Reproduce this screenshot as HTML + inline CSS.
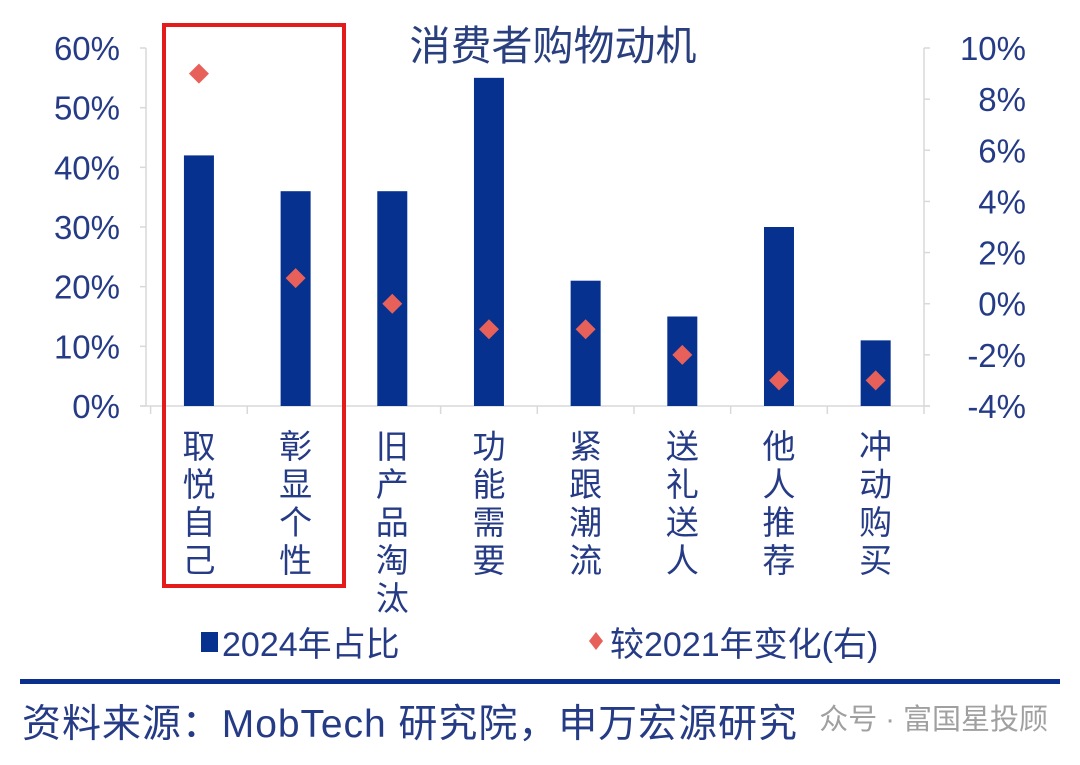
<!DOCTYPE html>
<html><head><meta charset="utf-8"><style>
body{margin:0;background:#fff;}
svg text{font-family:"Liberation Sans","Noto Sans CJK SC",sans-serif;}
</style></head><body>
<svg width="1080" height="760" viewBox="0 0 1080 760">
<g id="g"></g>
</svg>
<script>
const categories=["取悦自己","彰显个性","旧产品淘汰","功能需要","紧跟潮流","送礼送人","他人推荐","冲动购买"];
const share2024=[42,36,36,55,21,15,30,11];
const change2021=[9,1,0,-1,-1,-2,-3,-3];
const leftTicks=[0,10,20,30,40,50,60];
const rightTicks=[-4,-2,0,2,4,6,8,10];
const NS="http://www.w3.org/2000/svg";
const g=document.getElementById('g');
const x0=150.6,x1=924,yTop=48,yBot=406;
const band=(x1-x0)/categories.length;
const xc=i=>x0+band*(i+0.5);
const yL=v=>yBot-(v-0)/(60-0)*(yBot-yTop);
const yR=v=>yBot-(v+4)/(10+4)*(yBot-yTop);
function el(t,a,txt){const e=document.createElementNS(NS,t);for(const k in a)e.setAttribute(k,a[k]);if(txt!==undefined)e.textContent=txt;g.appendChild(e);return e;}
let e;
e=el('text',{x:553,y:60,'font-size':41,fill:'#2a3f7e','text-anchor':'middle'},'消费者购物动机');


e=el('line',{x1:146,x2:146,y1:yTop,y2:yBot,stroke:'#d9d9d9','stroke-width':1.5});


e=el('line',{x1:924,x2:924,y1:yTop,y2:yBot,stroke:'#d9d9d9','stroke-width':1.5});


e=el('line',{x1:140,x2:930,y1:yBot,y2:yBot,stroke:'#d9d9d9','stroke-width':1.5});


leftTicks.forEach(v=>{
 e=el('line',{x1:140,x2:146,y1:yL(v),y2:yL(v),stroke:'#d9d9d9','stroke-width':1.5});
 
 
 e=el('text',{x:120,y:yL(v)+12,'font-size':33,fill:'#253b85','text-anchor':'end'},v+'%');
 
 
});
rightTicks.forEach(v=>{
 e=el('line',{x1:924,x2:930,y1:yR(v),y2:yR(v),stroke:'#d9d9d9','stroke-width':1.5});
 
 
 e=el('text',{x:1026,y:yR(v)+12,'font-size':33,fill:'#253b85','text-anchor':'end'},v+'%');
 
 
});
for(let i=0;i<=categories.length;i++){
 e=el('line',{x1:x0+band*i,x2:x0+band*i,y1:yBot,y2:yBot+8,stroke:'#d9d9d9','stroke-width':1.5});
 
 
}
categories.forEach((c,i)=>{
 e=el('rect',{x:xc(i)-15,y:yL(share2024[i]),width:30,height:yBot-yL(share2024[i]),fill:'#06318f'});
 
 
 const yy=yR(change2021[i]);
 e=el('polygon',{points:`${xc(i)},${yy-10} ${xc(i)+10},${yy} ${xc(i)},${yy+10} ${xc(i)-10},${yy}`,fill:'#e8605a'});
 
 
 [...c].forEach((ch,k)=>{
  e=el('text',{x:xc(i),y:458+k*38,'font-size':33,fill:'#253b85','text-anchor':'middle'},ch);
  
  
 });
});
e=el('rect',{x:164,y:25,width:180,height:561,fill:'none',stroke:'#e31b1b','stroke-width':4});


e=el('rect',{x:201,y:632,width:17,height:20,fill:'#06318f'});


e=el('text',{x:222,y:656,'font-size':34,fill:'#253b85'},'2024年占比');


e=el('polygon',{points:'596,632 603,641 596,650 589,641',fill:'#e8605a'});


e=el('text',{x:610,y:656,'font-size':34,fill:'#253b85'},'较2021年变化(右)');


e=el('rect',{x:20,y:679,width:1040,height:5,fill:'#0b2f8c'});


e=el('text',{x:22,y:737,'font-size':39,fill:'#253b85','textLength':775},'资料来源：MobTech 研究院，申万宏源研究');


e=el('text',{x:1048,y:729,'font-size':29,fill:'#a0a0a0','text-anchor':'end'},'众号 · 富国星投顾');


</script>
</body></html>
